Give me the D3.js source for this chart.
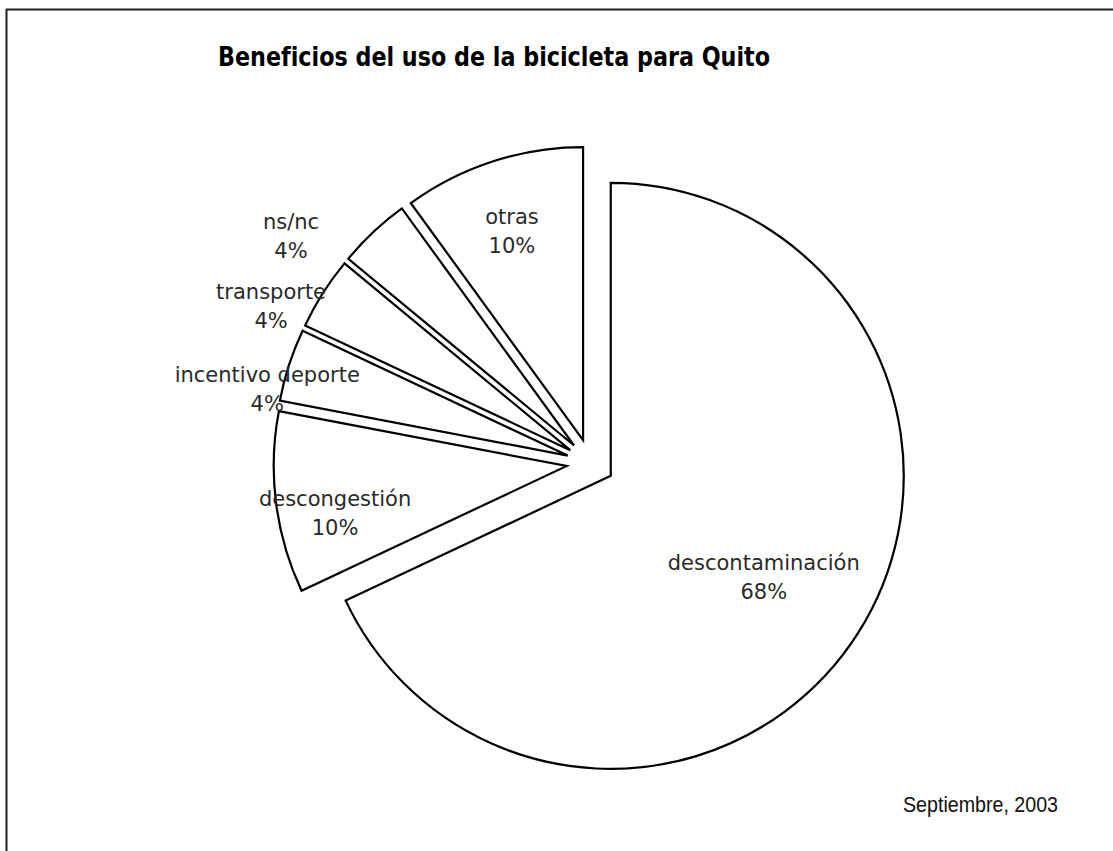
<!DOCTYPE html>
<html lang="es">
<head>
<meta charset="utf-8">
<title>Beneficios del uso de la bicicleta para Quito</title>
<script src="https://cdn.jsdelivr.net/npm/d3@7/dist/d3.min.js"></script>
<style>
  html, body { margin: 0; padding: 0; background: #fff; }
  svg { display: block; }
</style>
</head>
<body>
<svg id="chart" width="1113" height="851"></svg>
<script>
// Survey answers: share of respondents (%) per perceived benefit
const categories = ["descontaminación", "descongestión", "incentivo deporte", "transporte", "ns/nc", "otras"];
const shares = [68, 10, 4, 4, 4, 10];

const titleText = "Beneficios del uso de la bicicleta para Quito";
const dateText = "Septiembre, 2003";

// Layout
const W = 1113, H = 851;
const cx = 590.5, cy = 463;      // pie centre
const radius = 293;
const explode = 24;              // every slice pulled out along its bisector
// label placement per slice: angular shift (deg) from bisector and distance as fraction of radius
const labelPlacement = [
  { shift: 1.2,  dist: 0.71 },
  { shift: -4.1, dist: 0.889 },
  { shift: -5.3, dist: 1.131 },
  { shift: -6.4, dist: 1.213 },
  { shift: -9.8, dist: 1.28 },
  { shift: -0.8, dist: 0.832 }
];
const lineGap = 29;

const svg = d3.select("#chart");

// frame of the chart area
svg.append("rect")
  .attr("x", 6.5).attr("y", 9.5)
  .attr("width", W + 20).attr("height", H + 20)
  .attr("fill", "#fff")
  .attr("stroke", "#222")
  .attr("stroke-width", 2);

svg.append("text")
  .attr("x", 494).attr("y", 66)
  .attr("text-anchor", "middle")
  .attr("font-family", "'DejaVu Sans', sans-serif")
  .attr("font-weight", "bold")
  .attr("font-size", 26)
  .attr("textLength", 552)
  .attr("lengthAdjust", "spacingAndGlyphs")
  .attr("fill", "#000")
  .text(titleText);

const pie = d3.pie().sort(null).value(d => d).startAngle(0).endAngle(2 * Math.PI);
const arcs = pie(shares);
const arc = d3.arc().innerRadius(0).outerRadius(radius);

const g = svg.append("g").attr("transform", `translate(${cx},${cy})`);

g.selectAll("path.slice")
  .data(arcs)
  .join("path")
  .attr("class", "slice")
  .attr("transform", d => {
    const a = (d.startAngle + d.endAngle) / 2;
    return `translate(${Math.sin(a) * explode},${-Math.cos(a) * explode})`;
  })
  .attr("d", arc)
  .attr("fill", "#fff")
  .attr("stroke", "#000")
  .attr("stroke-width", 2.2)
  .attr("stroke-linejoin", "miter");

const labels = g.selectAll("g.label")
  .data(arcs)
  .join("g")
  .attr("class", "label")
  .attr("transform", (d, i) => {
    const p = labelPlacement[i];
    const a = (d.startAngle + d.endAngle) / 2 + p.shift * Math.PI / 180;
    const rr = p.dist * radius;
    return `translate(${Math.sin(a) * rr},${-Math.cos(a) * rr})`;
  })
  .attr("font-family", "'DejaVu Sans', sans-serif")
  .attr("font-size", 21)
  .attr("fill", "#2a2a2a")
  .attr("text-anchor", "middle");

labels.append("text")
  .attr("y", -lineGap / 2 + 6)
  .text((d, i) => categories[i]);
labels.append("text")
  .attr("y", lineGap / 2 + 6)
  .text(d => d3.format("d")(d.data) + "%");

svg.append("text")
  .attr("x", 903).attr("y", 812)
  .attr("font-family", "'Liberation Sans', Arial, sans-serif")
  .attr("font-size", 22)
  .attr("textLength", 155)
  .attr("lengthAdjust", "spacingAndGlyphs")
  .attr("fill", "#111")
  .text(dateText);
</script>
</body>
</html>
